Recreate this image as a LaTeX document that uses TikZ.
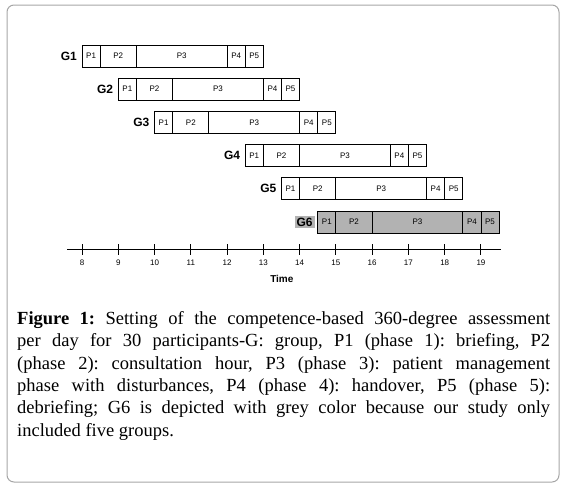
\documentclass[tikz,border=0pt]{standalone}
\usepackage{fontspec}
\setmainfont{Liberation Serif}
\setsansfont{Liberation Sans}
\usepackage{tikz}

\begin{document}
\frenchspacing
\begin{tikzpicture}[x=1pt,y=-1pt,
    grp/.style={font=\sffamily\bfseries\fontsize{12}{13}\selectfont,anchor=east,inner sep=2pt,xshift=-3pt},
    ph/.style={font=\sffamily\fontsize{8}{9}\selectfont,inner sep=0pt},
    phasebox/.style={line width=0.9pt},
    tick/.style={font=\sffamily\fontsize{8}{9}\selectfont,inner sep=0pt}]
    \useasboundingbox (0,0) rectangle (562,488);
    \draw[gray!70,line width=1pt,rounded corners=7pt] (7,5) rectangle (559,482);
  \begin{scope}[x=36.27pt,xshift=-208.16pt]
    % groups and their five phases
    \foreach \g/\s/\yy/\col in {1/8/56/white,2/9/89.2/white,3/10/122.4/white,4/12.5/155.6/white,5/13.5/188.8/white,6/14.5/222/gray!60}{
      \node[grp,fill=\col] (g\g) at (\s,\yy) {G\g};
      \foreach \p/\a/\b in {1/0/0.5,2/0.5/1.5,3/1.5/4,4/4/4.5,5/4.5/5}{
        \draw[phasebox,fill=\col] (\s+\a,\yy-11) rectangle (\s+\b,\yy+11);
        \node[ph] (g\g p\p) at ({\s+(\a+\b)/2},\yy) {P\p};
      }
    }
    % time axis
    \draw[line width=0.9pt] (7.59,249) -- (19.55,249);
    \foreach \t in {8,...,19}{
      \draw[line width=1pt] (\t,244) -- (\t,255);
      \node[tick] (t\t) at (\t,263) {\t};
    }
    \node[font=\sffamily\bfseries\fontsize{10}{11}\selectfont] (time) at (13.51,279) {Time};
  \end{scope}
    % caption
    \node[anchor=north west,inner sep=0pt,align=left,font=\fontsize{18.5}{22.4}\selectfont] (cap) at (17,311) {%
      \makebox[533pt][s]{\textbf{Figure 1:} Setting of the competence-based 360-degree assessment}\\
      \makebox[533pt][s]{per day for 30 participants-G: group, P1 (phase 1): briefing, P2}\\
      \makebox[533pt][s]{(phase 2): consultation hour, P3 (phase 3): patient management}\\
      \makebox[533pt][s]{phase with disturbances, P4 (phase 4): handover, P5 (phase 5):}\\
      \makebox[533pt][s]{debriefing; G6 is depicted with grey color because our study only}\\
      included five groups.};
  \end{tikzpicture}
\end{document}
